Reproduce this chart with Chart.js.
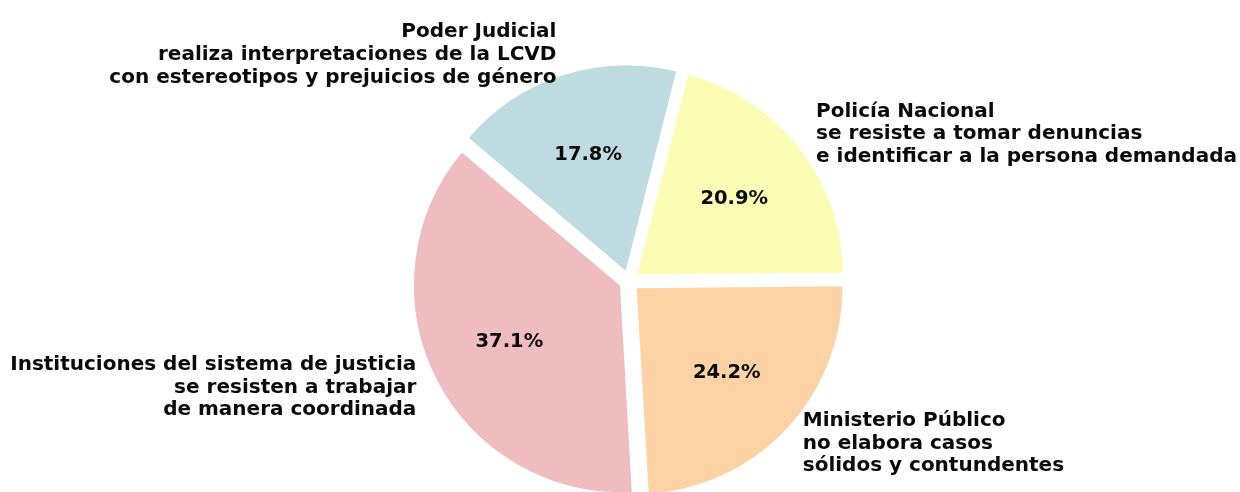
<!DOCTYPE html>
<html>
<head>
<meta charset="utf-8">
<script src="https://cdn.jsdelivr.net/npm/chart.js@4/dist/chart.umd.min.js"></script>
<style>
  html, body { margin: 0; padding: 0; background: #ffffff; }
  canvas { display: block; }
</style>
</head>
<body>
<canvas id="c" width="1240" height="492"></canvas>
<script>
// Data (ordered clockwise from 3 o'clock, as Chart.js draws)
const categories = [
  ["Ministerio Público", "no elabora casos", "sólidos y contundentes"],
  ["Instituciones del sistema de justicia", "se resisten a trabajar", "de manera coordinada"],
  ["Poder Judicial", "realiza interpretaciones de la LCVD", "con estereotipos y prejuicios de género"],
  ["Policía Nacional", "se resiste a tomar denuncias", "e identificar a la persona demandada"]
];
const values = [24.2, 37.1, 17.8, 20.9];
const colors = ["#FDD3A5", "#EFBDBF", "#BEDBE2", "#FBFDB4"];

// Keep exploded slices the same radius (Chart.js enlarges wide offset arcs)
const origDraw = Chart.ArcElement.prototype.draw;
Chart.ArcElement.prototype.draw = function (ctx) {
  const o = (this.options.offset || 0) / 4;
  const fix = 1 - Math.sin(Math.min(Math.PI, this.circumference || 0));
  const saved = this.outerRadius;
  this.outerRadius = saved - o * fix;
  origDraw.call(this, ctx);
  this.outerRadius = saved;
};

const FONT = 'bold 20px "DejaVu Sans", sans-serif';
const PCT_FONT = 'bold 19.5px "DejaVu Sans", sans-serif';
const LINE_H = 22.8;

const labelPlugin = {
  id: 'pieLabels',
  afterDatasetsDraw(chart) {
    const ctx = chart.ctx;
    const meta = chart.getDatasetMeta(0);
    const total = values.reduce((a, b) => a + b, 0);
    ctx.save();
    ctx.fillStyle = '#0a0a0a';
    meta.data.forEach((arc, i) => {
      const mid = (arc.startAngle + arc.endAngle) / 2;
      const off = (arc.options.offset || 0) / 4;
      const cx = arc.x + Math.cos(mid) * off;
      const cy = arc.y + Math.sin(mid) * off;
      const r = arc.outerRadius;
      // percentage
      ctx.font = PCT_FONT;
      ctx.textAlign = 'center';
      ctx.textBaseline = 'middle';
      const pct = (values[i] / total * 100).toFixed(1) + '%';
      ctx.fillText(pct, cx + Math.cos(mid) * r * 0.6, cy + Math.sin(mid) * r * 0.6 + 1);
      // category label
      ctx.font = FONT;
      const lx = cx + Math.cos(mid) * r * 1.1;
      const ly = cy + Math.sin(mid) * r * 1.1;
      ctx.textAlign = Math.cos(mid) > 0 ? 'left' : 'right';
      const lines = categories[i];
      const n = lines.length;
      lines.forEach((t, k) => {
        ctx.fillText(t, lx, ly + (k - (n - 1) / 2) * LINE_H);
      });
    });
    ctx.restore();
  }
};

new Chart(document.getElementById('c'), {
  type: 'pie',
  data: {
    labels: categories.map(l => l.join(' ')),
    datasets: [{
      data: values,
      backgroundColor: colors,
      borderColor: '#ffffff',
      borderWidth: 2,
      offset: 36,
      clip: false
    }]
  },
  options: {
    responsive: false,
    animation: false,
    events: [],
    rotation: 89.5,
    radius: 208,
    layout: { padding: { left: 18, top: 70, right: 0, bottom: 0 } },
    plugins: {
      legend: { display: false },
      tooltip: { enabled: false },
      title: { display: false }
    }
  },
  plugins: [labelPlugin]
});
</script>
</body>
</html>
